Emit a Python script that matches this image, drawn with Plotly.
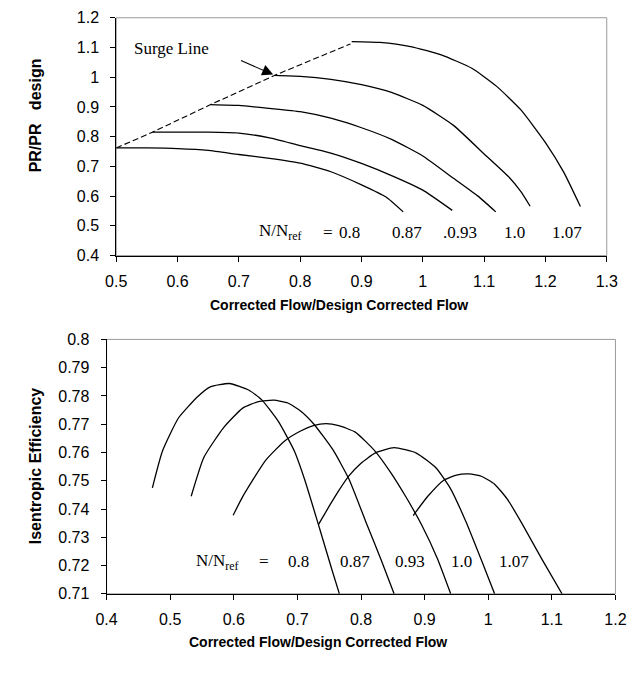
import plotly.graph_objects as go

W, H = 639, 673

# ---------------- Top chart: pressure ratio map ----------------
speed_labels = ["0.8", "0.87", ".0.93", "1.0", "1.07"]

pr_flow_080 = [0.5, 0.55, 0.6, 0.65, 0.7, 0.75, 0.8, 0.85, 0.9, 0.94, 0.968]
pr_val_080 = [0.762, 0.762, 0.76, 0.754, 0.74, 0.727, 0.711, 0.682, 0.638, 0.597, 0.547]

pr_flow_087 = [0.559, 0.6, 0.65, 0.7, 0.75, 0.8, 0.85, 0.9, 0.95, 1.0, 1.048]
pr_val_087 = [0.815, 0.815, 0.815, 0.812, 0.796, 0.77, 0.745, 0.71, 0.668, 0.62, 0.552]

pr_flow_093 = [0.654, 0.7, 0.75, 0.8, 0.85, 0.9, 0.95, 1.0, 1.05, 1.09, 1.119]
pr_val_093 = [0.908, 0.905, 0.895, 0.884, 0.862, 0.83, 0.79, 0.735, 0.66, 0.6, 0.547]

pr_flow_100 = [0.758, 0.8, 0.85, 0.9, 0.95, 1.0, 1.05, 1.1, 1.14, 1.16, 1.175]
pr_val_100 = [1.006, 1.003, 0.993, 0.975, 0.948, 0.905, 0.838, 0.742, 0.665, 0.615, 0.566]

pr_flow_107 = [0.884, 0.93, 0.98, 1.03, 1.08, 1.12, 1.16, 1.2, 1.23, 1.257]
pr_val_107 = [1.12, 1.117, 1.103, 1.075, 1.03, 0.97, 0.89, 0.78, 0.68, 0.565]

surge_flow = [0.5, 0.559, 0.654, 0.758, 0.882]
surge_pr = [0.762, 0.815, 0.908, 1.006, 1.112]

# ---------------- Bottom chart: efficiency map ----------------
eff_flow_080 = [0.472, 0.488, 0.513, 0.543, 0.563, 0.593, 0.624, 0.644, 0.670, 0.695, 0.712, 0.735, 0.755, 0.766]
eff_val_080 = [0.7475, 0.7606, 0.7722, 0.7797, 0.7832, 0.7844, 0.782, 0.7786, 0.771, 0.7606, 0.75, 0.733, 0.718, 0.71]

eff_flow_087 = [0.533, 0.553, 0.584, 0.614, 0.639, 0.663, 0.685, 0.705, 0.726, 0.756, 0.781, 0.807, 0.832, 0.852]
eff_val_087 = [0.7445, 0.7583, 0.7688, 0.7757, 0.778, 0.7785, 0.7775, 0.7747, 0.770, 0.7609, 0.7506, 0.7358, 0.7218, 0.71]

eff_flow_093 = [0.599, 0.614, 0.65, 0.68, 0.705, 0.725, 0.745, 0.765, 0.791, 0.822, 0.847, 0.87, 0.895, 0.92, 0.941]
eff_val_093 = [0.7378, 0.7444, 0.7572, 0.7641, 0.7676, 0.7695, 0.7702, 0.7695, 0.7672, 0.7605, 0.7528, 0.7445, 0.7345, 0.7225, 0.71]

eff_flow_100 = [0.733, 0.75, 0.765, 0.781, 0.80, 0.822, 0.852, 0.887, 0.918, 0.94, 0.965, 0.99, 1.010]
eff_val_100 = [0.7345, 0.741, 0.7465, 0.7517, 0.7562, 0.7598, 0.7617, 0.7598, 0.7545, 0.7475, 0.7355, 0.7215, 0.71]

eff_flow_107 = [0.882, 0.905, 0.93, 0.95, 0.97, 0.99, 1.01, 1.03, 1.054, 1.085, 1.116]
eff_val_107 = [0.7377, 0.7445, 0.7502, 0.752, 0.7524, 0.7515, 0.7488, 0.7435, 0.7345, 0.722, 0.71]

# label positions (data coords) for N/Nref texts
top_label_x = [0.88, 0.975, 1.06, 1.15, 1.235]
top_label_y = 0.479
bot_label_x = [0.702, 0.79, 0.877, 0.958, 1.04]
bot_label_y = 0.7214

fig = go.Figure()

line_style = dict(color="black", width=1.3)

top_curves = [(pr_flow_080, pr_val_080), (pr_flow_087, pr_val_087), (pr_flow_093, pr_val_093),
              (pr_flow_100, pr_val_100), (pr_flow_107, pr_val_107)]
for xs, ys in top_curves:
    fig.add_trace(go.Scatter(x=xs, y=ys, mode="lines", line=dict(line_style, shape="spline", smoothing=0.5),
                             xaxis="x", yaxis="y", showlegend=False, hoverinfo="skip"))
fig.add_trace(go.Scatter(x=surge_flow, y=surge_pr, mode="lines",
                         line=dict(color="black", width=1.1, dash="6px,3px"),
                         xaxis="x", yaxis="y", showlegend=False, hoverinfo="skip"))

bot_curves = [(eff_flow_080, eff_val_080), (eff_flow_087, eff_val_087), (eff_flow_093, eff_val_093),
              (eff_flow_100, eff_val_100), (eff_flow_107, eff_val_107)]
for xs, ys in bot_curves:
    fig.add_trace(go.Scatter(x=xs, y=ys, mode="lines", line=dict(line_style, shape="spline", smoothing=0.5),
                             xaxis="x2", yaxis="y2", showlegend=False, hoverinfo="skip"))

# plot area positions (pixels)
tl, tr, tt, tb = 109, 617, 10, 254
bl, br, bt, bb = 99, 626, 340, 601

def px(v):
    return v / W

def py(v):
    return 1 - v / H

tick_font = dict(family="Liberation Sans, Arial", size=16, color="black")
axis_common = dict(showgrid=False, zeroline=False, showline=True, linecolor="black", linewidth=1,
                   ticks="outside", ticklen=5, tickcolor="black", tickwidth=1, tickfont=tick_font)
xax = dict(axis_common, ticklabelstandoff=6)
yax = dict(axis_common, ticklabelstandoff=8)

fig.update_layout(
    width=W, height=H,
    margin=dict(l=0, r=0, t=0, b=0),
    paper_bgcolor="white", plot_bgcolor="white",
    xaxis=dict(xax, domain=[px(tl), px(tr)], range=[0.5, 1.3], tick0=0.5, dtick=0.1, anchor="y"),
    yaxis=dict(yax, domain=[py(tb), py(tt)], range=[0.4, 1.2], tick0=0.4, dtick=0.1, anchor="x"),
    xaxis2=dict(xax, domain=[px(bl), px(br)], range=[0.4, 1.2], tick0=0.4, dtick=0.1, anchor="y2"),
    yaxis2=dict(yax, domain=[py(bb), py(bt)], range=[0.71, 0.8], tick0=0.71, dtick=0.01, anchor="x2"),
)

# grey frame (top & right)
for xr, yr in [("x", "y"), ("x2", "y2")]:
    fig.add_shape(type="rect", xref=xr + " domain", yref=yr + " domain", x0=0, x1=1, y0=0, y1=1,
                  line=dict(color="#9a9a9a", width=1), layer="below")

title_font = dict(family="Liberation Sans, Arial", size=14, color="black")
ytitle_font = dict(family="Liberation Sans, Arial", size=16, color="black")
times = dict(family="Liberation Serif, Times New Roman", size=17, color="black")

ann = []
# axis titles
ann.append(dict(x=px(340), y=py(305), xref="paper", yref="paper", text="<b>Corrected Flow/Design Corrected Flow</b>",
                xanchor="center", yanchor="middle", showarrow=False, font=title_font))
ann.append(dict(x=px(318), y=py(650), xref="paper", yref="paper", text="<b>Corrected Flow/Design Corrected Flow</b>",
                xanchor="center", yanchor="middle", showarrow=False, font=title_font))
ann.append(dict(x=px(25), y=py(110), xref="paper", yref="paper", text="<b>PR/PR\u00a0\u00a0\u00a0design</b>",
                xanchor="center", yanchor="middle", textangle=-90, showarrow=False, font=ytitle_font))
ann.append(dict(x=px(25), y=py(470), xref="paper", yref="paper", text="<b>Isentropic Efficiency</b>",
                xanchor="center", yanchor="middle", textangle=-90, showarrow=False, font=ytitle_font))

# surge line label and arrow
ann.append(dict(x=0.526, y=1.096, xref="x", yref="y", text="Surge Line", xanchor="left", yanchor="middle",
                showarrow=False, font=times))
ann.append(dict(x=0.756, y=1.009, ax=0.701, ay=1.058, xref="x", yref="y", axref="x", ayref="y",
                text="", showarrow=True, arrowhead=2, arrowsize=2, arrowwidth=1.1, arrowcolor="black"))

# N/Nref labels
ann.append(dict(x=0.73, y=top_label_y, xref="x", yref="y", text="N/N<sub>ref</sub>", xanchor="left",
                yanchor="middle", showarrow=False, font=times))
ann.append(dict(x=0.845, y=top_label_y, xref="x", yref="y", text="=", showarrow=False, font=times))
for xv, lab in zip(top_label_x, speed_labels):
    ann.append(dict(x=xv, y=top_label_y, xref="x", yref="y", text=lab, showarrow=False, font=times))

bot_speed = ["0.8", "0.87", "0.93", "1.0", "1.07"]
ann.append(dict(x=0.538, y=bot_label_y, xref="x2", yref="y2", text="N/N<sub>ref</sub>", xanchor="left",
                yanchor="middle", showarrow=False, font=times))
ann.append(dict(x=0.648, y=bot_label_y, xref="x2", yref="y2", text="=", showarrow=False, font=times))
for xv, lab in zip(bot_label_x, bot_speed):
    ann.append(dict(x=xv, y=bot_label_y, xref="x2", yref="y2", text=lab, showarrow=False, font=times))

fig.update_layout(annotations=ann)

fig.write_html("out.html")
